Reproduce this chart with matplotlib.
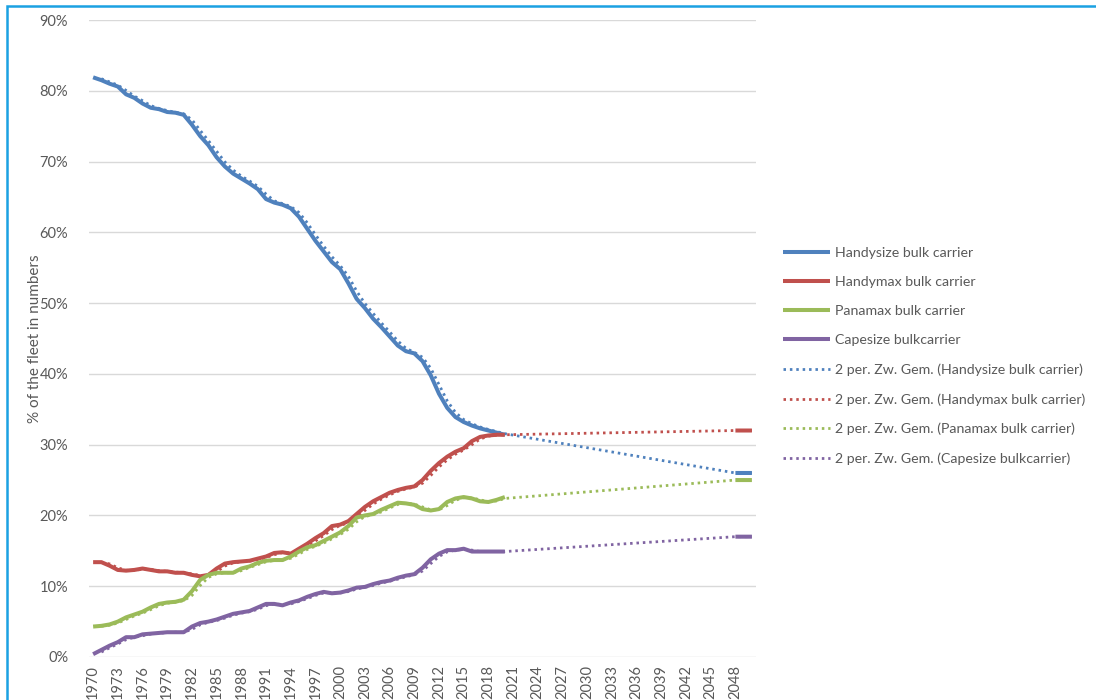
import numpy as np
import pandas as pd
import matplotlib
matplotlib.use("Agg")
import matplotlib.pyplot as plt
from matplotlib.patches import Rectangle

plt.rcParams['font.family'] = ['Lato', 'DejaVu Sans']

# share of the bulk carrier fleet (in numbers), %
years = list(range(1970, 2021))
handysize = [81.9, 81.5, 81.0, 80.6, 79.5, 79.0, 78.2, 77.6, 77.4, 77.0,
             76.9, 76.6, 75.2, 73.6, 72.3, 70.6, 69.3, 68.3, 67.6, 66.9,
             66.1, 64.7, 64.2, 63.9, 63.4, 62.2, 60.5, 58.8, 57.3, 55.8,
             54.8, 52.8, 50.6, 49.3, 47.8, 46.6, 45.3, 44.0, 43.2, 42.9,
             41.8, 39.8, 37.2, 35.2, 33.9, 33.2, 32.7, 32.3, 32.0, 31.7,
             31.4]
handymax = [13.4, 13.4, 12.9, 12.3, 12.2, 12.3, 12.5, 12.3, 12.1, 12.1,
            11.9, 11.9, 11.6, 11.4, 11.6, 12.5, 13.2, 13.4, 13.5, 13.6,
            13.9, 14.2, 14.7, 14.8, 14.6, 15.3, 16.0, 16.8, 17.5, 18.5,
            18.7, 19.2, 20.2, 21.2, 22.0, 22.6, 23.2, 23.6, 23.9, 24.1,
            25.0, 26.3, 27.4, 28.3, 29.0, 29.5, 30.5, 31.1, 31.3, 31.4,
            31.4]
panamax = [4.3, 4.4, 4.6, 5.0, 5.6, 6.0, 6.4, 7.0, 7.5, 7.7,
           7.8, 8.1, 9.3, 10.9, 11.6, 11.9, 11.9, 11.9, 12.5, 12.8,
           13.3, 13.6, 13.7, 13.7, 14.2, 14.9, 15.5, 15.8, 16.4, 17.0,
           17.6, 18.5, 19.7, 20.0, 20.2, 20.8, 21.3, 21.8, 21.7, 21.5,
           20.9, 20.7, 20.9, 21.9, 22.4, 22.6, 22.4, 22.0, 21.9, 22.2,
           22.6]
capesize = [0.4, 1.0, 1.6, 2.1, 2.8, 2.8, 3.2, 3.3, 3.4, 3.5,
            3.5, 3.5, 4.3, 4.8, 5.0, 5.3, 5.7, 6.1, 6.3, 6.5,
            7.0, 7.5, 7.5, 7.3, 7.7, 8.0, 8.5, 8.9, 9.2, 9.0,
            9.1, 9.4, 9.8, 9.9, 10.3, 10.6, 10.8, 11.2, 11.5, 11.7,
            12.6, 13.8, 14.6, 15.1, 15.1, 15.3, 14.9, 14.9, 14.9, 14.9,
            14.9]

# projected end values
end_years = [2048, 2049, 2050]
handysize_end = [26.0, 26.0, 26.0]
handymax_end = [32.0, 32.0, 32.0]
panamax_end = [25.0, 25.0, 25.0]
capesize_end = [17.0, 17.0, 17.0]

names = ["Handysize bulk carrier", "Handymax bulk carrier",
         "Panamax bulk carrier", "Capesize bulkcarrier"]
colors = ["#4F81BD", "#C0504D", "#9BBB59", "#8064A2"]
hist = [handysize, handymax, panamax, capesize]
ends = [handysize_end, handymax_end, panamax_end, capesize_end]

grey = "#595959"

fig = plt.figure(figsize=(10.96, 7.0), dpi=100)
ax = fig.add_axes([89 / 1096, 43 / 700, 667 / 1096, 637 / 700])

all_years = np.arange(1970, 2051)
solid_handles = []
dot_handles = []
for name, col, h, e in zip(names, colors, hist, ends):
    s = pd.Series(np.nan, index=all_years)
    s.loc[years] = h
    s.loc[end_years] = e
    # solid data line, with a gap where there is no data
    ln, = ax.plot(s.index, s.values, color=col, lw=2.9, solid_capstyle='butt',
                  solid_joinstyle='round', label=name)
    solid_handles.append(ln)
    # 2-period moving average
    ma = s.rolling(2, min_periods=1).mean()[s.notna()].iloc[1:]
    dl, = ax.plot(ma.index, ma.values, color=col, lw=2.0,
                  linestyle=(0, (0.9, 1.4)), dash_capstyle='butt',
                  label="2 per. Zw. Gem. (%s)" % name)
    dot_handles.append(dl)

ax.set_xlim(1969.5, 2050.5)
ax.set_ylim(0, 90)
ax.set_yticks(range(0, 91, 10))
ax.set_yticklabels(["%d%%" % v for v in range(0, 91, 10)])
ax.set_xticks(range(1970, 2050, 3))
ax.set_xticklabels([str(y) for y in range(1970, 2050, 3)], rotation=90)
ax.tick_params(axis='both', length=0, labelsize=10.5, labelcolor=grey)
ax.tick_params(axis='y', pad=15)
ax.tick_params(axis='x', pad=6)
ax.grid(axis='y', color="#D9D9D9", lw=1.0)
ax.set_axisbelow(True)
for sp in ax.spines.values():
    sp.set_visible(False)

ax.set_ylabel("% of the fleet in numbers", color=grey, fontsize=11)
ax.yaxis.set_label_coords(-47 / 667, 0.5)

fig.legend(handles=solid_handles + dot_handles, loc='center left',
           bbox_to_anchor=(783 / 1096, 1 - 356 / 700), frameon=False,
           fontsize=10.2, labelcolor=grey, handlelength=3.3,
           handletextpad=0.35, labelspacing=1.2, borderpad=0, borderaxespad=0)

# chart frame
fig.patches.append(Rectangle((7 / 1096, -0.05), 1.2, 1 - 6 / 700 + 0.05,
                             transform=fig.transFigure, fill=False,
                             edgecolor="#1BA1E2", lw=1.8, zorder=-1))

fig.savefig("out.png", dpi=100)
